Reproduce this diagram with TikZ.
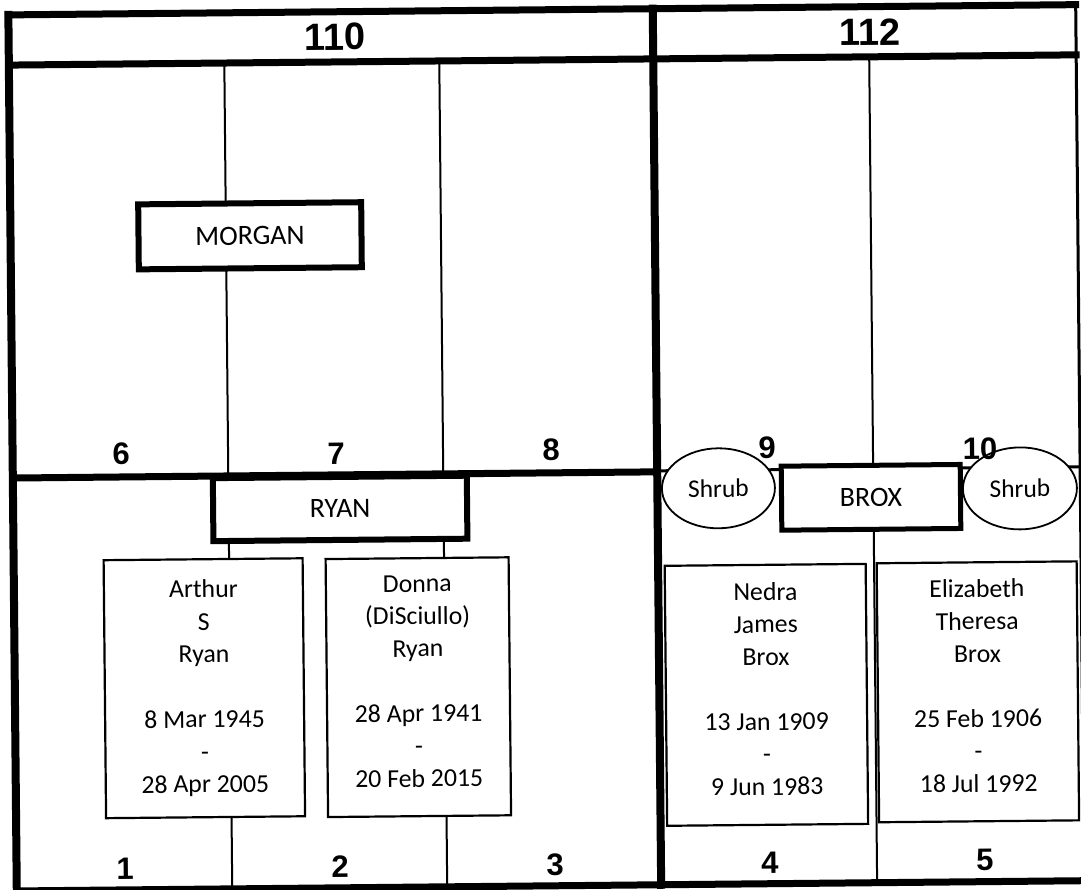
\documentclass[tikz,border=0pt]{standalone}
\usepackage{fontspec}
\setmainfont{Carlito}
\newfontfamily\numfont{Liberation Sans}
\usetikzlibrary{shapes.geometric}
\newcommand{\liftby}[1]{\rule[-#1]{0pt}{#1}}
\begin{document}
\begin{tikzpicture}[x=1pt,y=-1pt,
  thickline/.style={line width=7pt, line cap=rect},
  thinline/.style={line width=2pt},
  famname/.style={draw, line width=6pt, fill=white, inner sep=0pt, font=\fontsize{28}{32}\selectfont},
  person/.style={draw, line width=2.2pt, fill=white, inner sep=0pt, align=center, font=\fontsize{25.8}{32.5}\selectfont},
  shrub/.style={ellipse, draw, line width=1.8pt, fill=white, inner sep=0pt, font=\fontsize{25.5}{30}\selectfont},
  lotnum/.style={font=\numfont\bfseries\fontsize{31}{31}\selectfont, inner sep=0pt},
  headnum/.style={font=\numfont\bfseries\fontsize{38}{38}\selectfont, inner sep=0pt}]
\useasboundingbox (0,0) rectangle (1081,890);
\clip (0,0) rectangle (1081,890);
\fill[white] (0,0) rectangle (1081,890);
\begin{scope}[rotate around={0.55:(540.5,445)}, transform shape]
  % key coordinates
  \coordinate (TL) at (12.5,9.8);
  \coordinate (TR) at (1080,9.8);
  \coordinate (BL) at (12.5,886);
  \coordinate (BR) at (1080,886);
  \coordinate (HL) at (12.5,60);
  \coordinate (HR) at (1080,60);
  \coordinate (MT) at (657,9.8);
  \coordinate (MB) at (657,886);
  \coordinate (ML) at (12.5,473);
  \coordinate (MM) at (657,473);
  \coordinate (RL) at (657,472);
  \coordinate (RR) at (1080,472);
  \coordinate (a1) at (228,60);
  \coordinate (a2) at (228,886);
  \coordinate (b1) at (443,60);
  \coordinate (b2) at (443,886);
  \coordinate (c1) at (873,60);
  \coordinate (c2) at (873,886);
  % thin grid lines
  \draw[thinline] (a1) -- (a2);
  \draw[thinline] (b1) -- (b2);
  \draw[thinline] (c1) -- (c2);
  \draw[line width=3pt] (RL) -- (RR);
  \draw[line width=3pt] (TR) -- (BR);
  % thick frame
  \draw[thickline] (TL) -- (TR);
  \draw[thickline] (BL) -- (BR);
  \draw[thickline, line width=8pt] (TL) -- (BL);
  \draw[thickline] (HL) -- (HR);
  \draw[thickline, line width=8pt] (MT) -- (MB);
  \draw[thickline] (ML) -- (MM);
  % headers
  \node[headnum] (h110) at (339,35) {110};
  \node[headnum] (h112) at (874,35) {112};
  % family name boxes
  \node[famname, minimum width=223pt, minimum height=65pt] (morgan) at (252,233) {MORGAN};
  \node[famname, minimum width=254pt, minimum height=63pt] (ryan) at (339.5,506.5) {RYAN};
  \node[famname, line width=5pt, minimum width=179pt, minimum height=64pt] (brox) at (870.5,500.5) {BROX};
  % shrubs
  \node[shrub, minimum width=113pt, minimum height=80pt] (shrubL) at (718,490) {Shrub};
  \node[shrub, minimum width=114pt, minimum height=82pt] (shrubR) at (1019.5,493) {Shrub};
  % persons
  \node[person, minimum width=199pt, minimum height=258pt] (arthur) at (202,685)
    {Arthur\\S\\Ryan\\[32.5pt]8 Mar 1945\\-\\28 Apr 2005\liftby{4pt}};
  \node[person, minimum width=183pt, minimum height=258pt] (donna) at (416,686)
    {Donna\\(DiSciullo)\\Ryan\\[32.5pt]28 Apr 1941\\-\\20 Feb 2015\liftby{12pt}};
  \node[person, minimum width=201pt, minimum height=260pt] (nedra) at (764,697)
    {Nedra\\James\\Brox\\[32.5pt]13 Jan 1909\\-\\9 Jun 1983\liftby{12pt}};
  \node[person, minimum width=200pt, minimum height=259pt] (eliz) at (975.5,696)
    {Elizabeth\\Theresa\\Brox\\[32.5pt]25 Feb 1906\\-\\18 Jul 1992\liftby{12pt}};
  % lot numbers
  \node[lotnum] (n6) at (121,450) {6};
  \node[lotnum] (n7) at (336,452) {7};
  \node[lotnum] (n8) at (551,450) {8};
  \node[lotnum] (n9) at (767,450) {9};
  \node[lotnum] (n10) at (980,453) {10};
  \node[lotnum] (n1) at (121,864.5) {1};
  \node[lotnum] (n2) at (336,864.5) {2};
  \node[lotnum] (n3) at (551,864.5) {3};
  \node[lotnum] (n4) at (766,864.5) {4};
  \node[lotnum] (n5) at (981,864.5) {5};
\end{scope}
\end{tikzpicture}
\end{document}
